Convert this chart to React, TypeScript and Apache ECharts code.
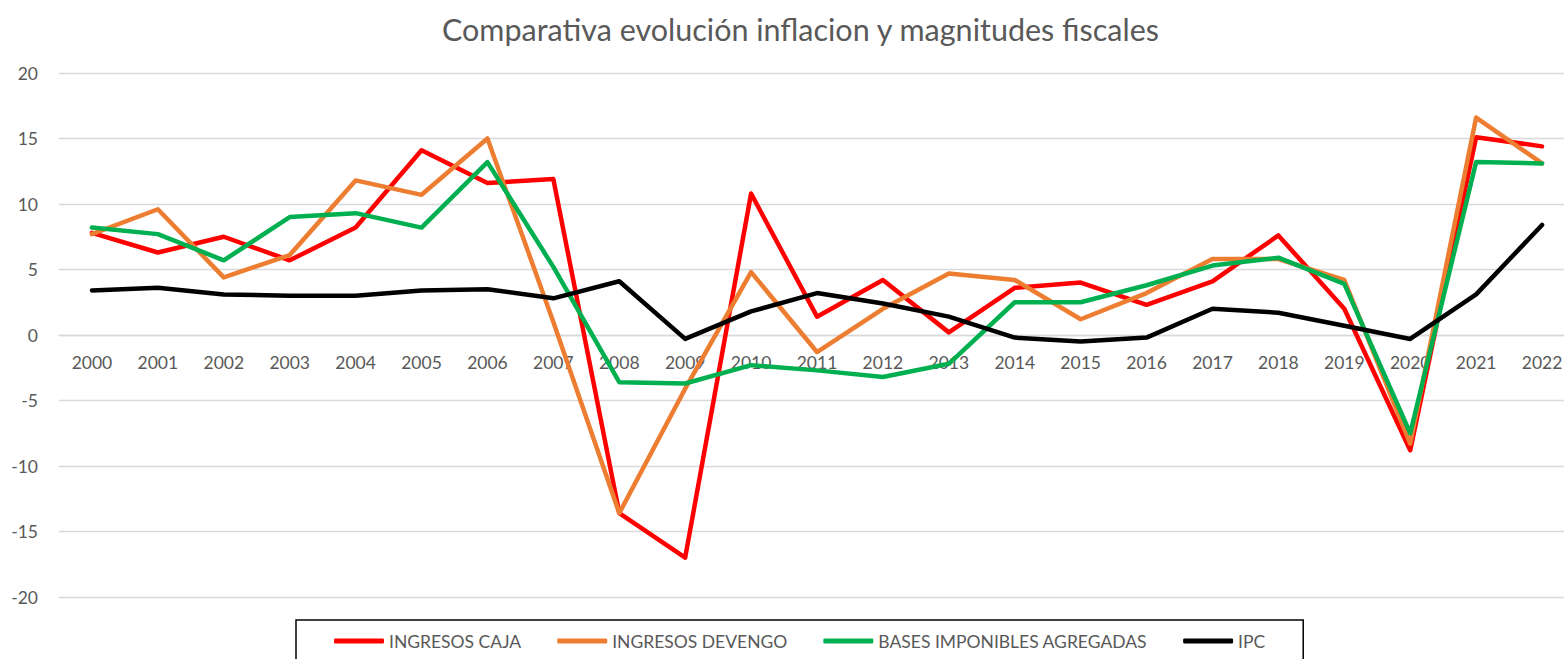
import React, { useEffect, useRef } from "react";
import * as echarts from "echarts";

const years = [
  "2000", "2001", "2002", "2003", "2004", "2005", "2006", "2007", "2008", "2009", "2010", "2011",
  "2012", "2013", "2014", "2015", "2016", "2017", "2018", "2019", "2020", "2021", "2022",
];

const ingresosCaja = [
  7.8, 6.3, 7.5, 5.7, 8.2, 14.1, 11.6, 11.9, -13.6, -17.0, 10.8, 1.4,
  4.2, 0.2, 3.6, 4.0, 2.3, 4.1, 7.6, 2.0, -8.8, 15.1, 14.4,
];

const ingresosDevengo = [
  7.7, 9.6, 4.4, 6.1, 11.8, 10.7, 15.0, 1.0, -13.6, -4.1, 4.8, -1.3,
  2.0, 4.7, 4.2, 1.2, 3.2, 5.8, 5.8, 4.2, -8.3, 16.6, 13.1,
];

const basesImponibles = [
  8.2, 7.7, 5.7, 9.0, 9.3, 8.2, 13.2, 5.2, -3.6, -3.7, -2.3, -2.7,
  -3.2, -2.2, 2.5, 2.5, 3.8, 5.3, 5.9, 3.9, -7.5, 13.2, 13.1,
];

const ipc = [
  3.4, 3.6, 3.1, 3.0, 3.0, 3.4, 3.5, 2.8, 4.1, -0.3, 1.8, 3.2,
  2.4, 1.4, -0.2, -0.5, -0.2, 2.0, 1.7, 0.7, -0.3, 3.1, 8.4,
];

const seriesNames = ["INGRESOS CAJA", "INGRESOS DEVENGO", "BASES IMPONIBLES AGREGADAS", "IPC"];
const seriesColors = ["#FF0000", "#ED7D31", "#00B050", "#000000"];
const seriesData = [ingresosCaja, ingresosDevengo, basesImponibles, ipc];

const FONT = "Lato, 'Open Sans', sans-serif";

const GRID_TOP = 73;
const GRID_BOTTOM = 62;
const CHART_H = 659;
const Y_MIN = -20;
const Y_MAX = 20;

export default function App() {
  const ref = useRef<HTMLDivElement>(null);

  useEffect(() => {
    if (!ref.current) return;
    const chart = echarts.init(ref.current, undefined, { renderer: "svg" });
    // move the category axis (labels) from the bottom of the grid up to the zero line
    const plotH = CHART_H - GRID_TOP - GRID_BOTTOM;
    const zeroOffset = -plotH * ((0 - Y_MIN) / (Y_MAX - Y_MIN));
    chart.setOption({
      animation: false,
      backgroundColor: "#FFFFFF",
      title: {
        text: "Comparativa evolución inflacion y magnitudes fiscales",
        left: 437,
        top: 8,
        textStyle: {
          fontFamily: FONT,
          fontSize: 30.5,
          fontWeight: "normal",
          color: "#595959",
        },
      },
      legend: {
        data: seriesNames,
        left: 296,
        top: 620,
        padding: [12, 38, 14, 38],
        itemGap: 36,
        itemWidth: 50,
        itemHeight: 5,
        icon: "roundRect",
        borderColor: "#000000",
        borderWidth: 1.5,
        textStyle: {
          fontFamily: FONT,
          fontSize: 17.5,
          color: "#595959",
        },
      },
      grid: {
        left: 59,
        right: -11,
        top: GRID_TOP,
        bottom: GRID_BOTTOM,
        containLabel: false,
        outerBoundsMode: "none",
      },
      xAxis: {
        type: "category",
        data: years,
        boundaryGap: true,
        offset: zeroOffset,
        axisLine: { show: true, onZero: false, lineStyle: { color: "#D9D9D9", width: 1.3 } },
        axisTick: { show: false },
        axisLabel: {
          fontFamily: FONT,
          fontSize: 17.5,
          color: "#595959",
          margin: 18,
          interval: 0,
        },
        splitLine: { show: false },
      },
      yAxis: {
        type: "value",
        min: Y_MIN,
        max: Y_MAX,
        interval: 5,
        axisLine: { show: false },
        axisTick: { show: false },
        axisLabel: {
          fontFamily: FONT,
          fontSize: 17.5,
          color: "#595959",
          margin: 21,
        },
        splitLine: { lineStyle: { color: "#D9D9D9", width: 1.3 } },
      },
      series: seriesNames.map((name, i) => ({
        name,
        type: "line",
        data: seriesData[i],
        symbol: "none",
        color: seriesColors[i],
        lineStyle: { color: seriesColors[i], width: 4.5, cap: "round", join: "round" },
      })),
    });
    return () => chart.dispose();
  }, []);

  return (
    <div
      ref={ref}
      style={{ position: "fixed", left: 0, top: 0, width: 1564, height: 659, background: "#fff" }}
    />
  );
}
